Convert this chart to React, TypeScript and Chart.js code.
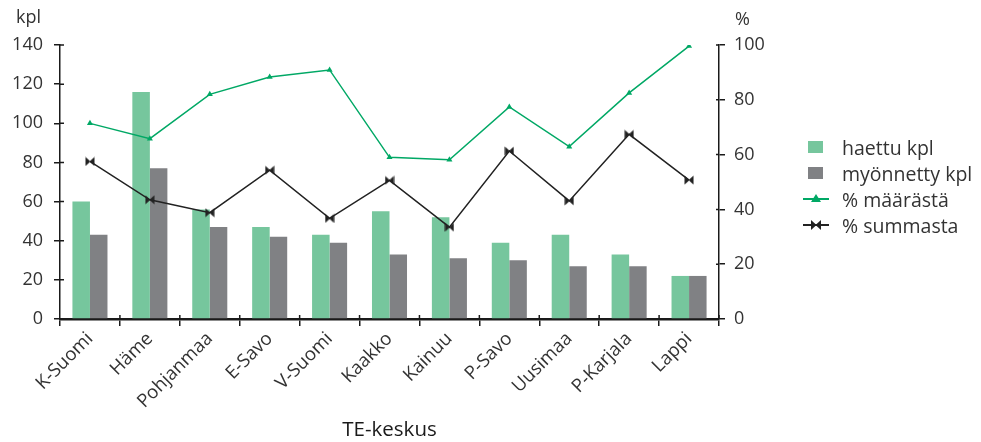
import React, { useEffect, useRef } from "react";
import { Chart, registerables } from "chart.js";

Chart.register(...registerables);

const categories = ["K-Suomi", "Häme", "Pohjanmaa", "E-Savo", "V-Suomi", "Kaakko", "Kainuu", "P-Savo", "Uusimaa", "P-Karjala", "Lappi"];
const haettu = [60, 116, 56, 47, 43, 55, 52, 39, 43, 33, 22];
const myonnetty = [43, 77, 47, 42, 39, 33, 31, 30, 27, 27, 22];
const pctMaarasta = [71.4, 65.8, 82, 88.3, 90.9, 59, 58.1, 77.4, 62.9, 82.5, 99.6];
const pctSummasta = [57.5, 43.5, 38.8, 54.3, 36.7, 50.6, 33.5, 61.3, 43.1, 67.4, 50.7];
const leftTicks = [0, 20, 40, 60, 80, 100, 120, 140];
const rightTicks = [0, 20, 40, 60, 80, 100];

const GREEN_BAR = "#76c69d";
const GREY_BAR = "#808184";
const GREEN_LINE = "#00a865";
const BLACK_LINE = "#222222";
const TEXT = "#333333";
const AXIS = "#1a1a1a";
const FONT = "'Open Sans', 'Noto Sans', sans-serif";

function bowtie(): HTMLCanvasElement {
  const c = document.createElement("canvas");
  const s = 10;
  c.width = s;
  c.height = s;
  const ctx = c.getContext("2d")!;
  ctx.fillStyle = BLACK_LINE;
  ctx.beginPath();
  ctx.moveTo(0.5, 0.5);
  ctx.lineTo(5.5, 5);
  ctx.lineTo(0.5, 9.5);
  ctx.closePath();
  ctx.moveTo(9.5, 0.5);
  ctx.lineTo(4.5, 5);
  ctx.lineTo(9.5, 9.5);
  ctx.closePath();
  ctx.fill();
  return c;
}

const extras = {
  id: "extras",
  afterDraw(chart: any) {
    const ctx = chart.ctx;
    const x = chart.scales.x;
    const y = chart.scales.y;
    const y1 = chart.scales.y1;
    ctx.save();
    ctx.strokeStyle = AXIS;
    ctx.lineWidth = 1.5;
    ctx.beginPath();
    leftTicks.forEach((v) => {
      const p = y.getPixelForValue(v);
      ctx.moveTo(y.right, p);
      ctx.lineTo(y.right + 4, p);
    });
    rightTicks.forEach((v) => {
      const p = y1.getPixelForValue(v);
      ctx.moveTo(y1.left - 3, p);
      ctx.lineTo(y1.left, p);
    });
    const half = (x.getPixelForValue(1) - x.getPixelForValue(0)) / 2;
    for (let i = 1; i <= categories.length; i++) {
      const p = x.getPixelForValue(i) - half;
      ctx.moveTo(p, x.top - 4);
      ctx.lineTo(p, x.top);
    }
    ctx.stroke();
    ctx.fillStyle = TEXT;
    ctx.font = `18px ${FONT}`;
    ctx.textBaseline = "middle";
    ctx.textAlign = "right";
    ctx.fillText("kpl", 41, 18);
    ctx.textAlign = "left";
    ctx.fillText("%", 735, 20);
    ctx.restore();
  },
};

function Legend() {
  const row: React.CSSProperties = { display: "flex", alignItems: "center", height: 26 };
  const label: React.CSSProperties = { marginLeft: 12, fontSize: 19.5, color: TEXT, fontFamily: FONT, whiteSpace: "nowrap" };
  return (
    <div style={{ position: "absolute", left: 802, top: 134 }}>
      <div style={row}>
        <svg width={28} height={14}><rect x={6} y={1} width={15} height={12} fill={GREEN_BAR} /></svg>
        <span style={label}>haettu kpl</span>
      </div>
      <div style={row}>
        <svg width={28} height={14}><rect x={6} y={1} width={15} height={12} fill={GREY_BAR} /></svg>
        <span style={label}>myönnetty kpl</span>
      </div>
      <div style={row}>
        <svg width={28} height={14}>
          <line x1={1} y1={7} x2={27} y2={7} stroke={GREEN_LINE} strokeWidth={2} />
          <polygon points="14,2 19,10 9,10" fill={GREEN_LINE} />
        </svg>
        <span style={label}>% määrästä</span>
      </div>
      <div style={row}>
        <svg width={28} height={14}>
          <line x1={1} y1={7} x2={27} y2={7} stroke={BLACK_LINE} strokeWidth={2} />
          <polygon points="9,2 14.5,7 9,12" fill={BLACK_LINE} />
          <polygon points="19,2 13.5,7 19,12" fill={BLACK_LINE} />
        </svg>
        <span style={label}>% summasta</span>
      </div>
    </div>
  );
}

export default function App() {
  const ref = useRef<HTMLCanvasElement>(null);
  useEffect(() => {
    if (!ref.current) return;
    const marker = bowtie();
    const chart = new Chart(ref.current, {
      type: "bar",
      data: {
        labels: categories,
        datasets: [
          {
            type: "line",
            label: "% määrästä",
            data: pctMaarasta,
            yAxisID: "y1",
            borderColor: GREEN_LINE,
            backgroundColor: GREEN_LINE,
            borderWidth: 1.5,
            pointStyle: "triangle",
            pointRadius: 3.5,
            pointBorderWidth: 0,
            tension: 0,
            order: 0,
          } as any,
          {
            type: "line",
            label: "% summasta",
            data: pctSummasta,
            yAxisID: "y1",
            borderColor: BLACK_LINE,
            backgroundColor: BLACK_LINE,
            borderWidth: 1.5,
            pointStyle: marker,
            pointRadius: 5,
            tension: 0,
            order: 1,
          } as any,
          {
            type: "bar",
            label: "haettu kpl",
            data: haettu,
            yAxisID: "y",
            backgroundColor: GREEN_BAR,
            categoryPercentage: 0.585,
            barPercentage: 1,
            order: 2,
          },
          {
            type: "bar",
            label: "myönnetty kpl",
            data: myonnetty,
            yAxisID: "y",
            backgroundColor: GREY_BAR,
            categoryPercentage: 0.585,
            barPercentage: 1,
            order: 2,
          },
        ],
      },
      options: {
        responsive: false,
        animation: false,
        layout: { padding: { top: 45, left: 0, right: 0, bottom: 0 } },
        plugins: { legend: { display: false }, tooltip: { enabled: false } },
        scales: {
          x: {
            offset: true,
            grid: { display: true, drawOnChartArea: false, drawTicks: true, tickLength: 7, color: AXIS, lineWidth: 1.5, offset: true },
            border: { display: true, color: AXIS, width: 2.5 },
            ticks: { color: TEXT, font: { family: FONT, size: 18.5 }, maxRotation: 45, minRotation: 45, padding: 2, autoSkip: false },
            title: { display: true, text: "TE-keskus", color: "#1a1a1a", font: { family: FONT, size: 20.5 }, padding: { top: 0, bottom: 0 } },
            afterFit: (s: any) => { s.height = 442 - 319; },
          },
          y: {
            position: "left",
            min: 0,
            max: 140,
            afterBuildTicks: (s: any) => { s.ticks = leftTicks.map((v) => ({ value: v })); },
            grid: { display: true, drawOnChartArea: false, drawTicks: true, tickLength: 6, color: AXIS, lineWidth: 1.5 },
            border: { display: true, color: AXIS, width: 1.5 },
            ticks: { color: TEXT, font: { family: FONT, size: 18 }, padding: 11 },
            afterFit: (s: any) => { s.width = 60; },
          },
          y1: {
            position: "right",
            min: 0,
            max: 100,
            afterBuildTicks: (s: any) => { s.ticks = rightTicks.map((v) => ({ value: v })); },
            grid: { display: true, drawOnChartArea: false, drawTicks: true, tickLength: 6, color: AXIS, lineWidth: 1.5 },
            border: { display: true, color: AXIS, width: 1.5 },
            ticks: { color: TEXT, font: { family: FONT, size: 18 }, padding: 9 },
            afterFit: (s: any) => { s.width = 981 - 719; },
          },
        },
      },
      plugins: [extras],
    });
    return () => chart.destroy();
  }, []);
  return (
    <div style={{ position: "fixed", left: 0, top: 0, width: 981, height: 442, background: "#fff" }}>
      <canvas ref={ref} width={981} height={442} style={{ width: 981, height: 442 }} />
      <Legend />
    </div>
  );
}
